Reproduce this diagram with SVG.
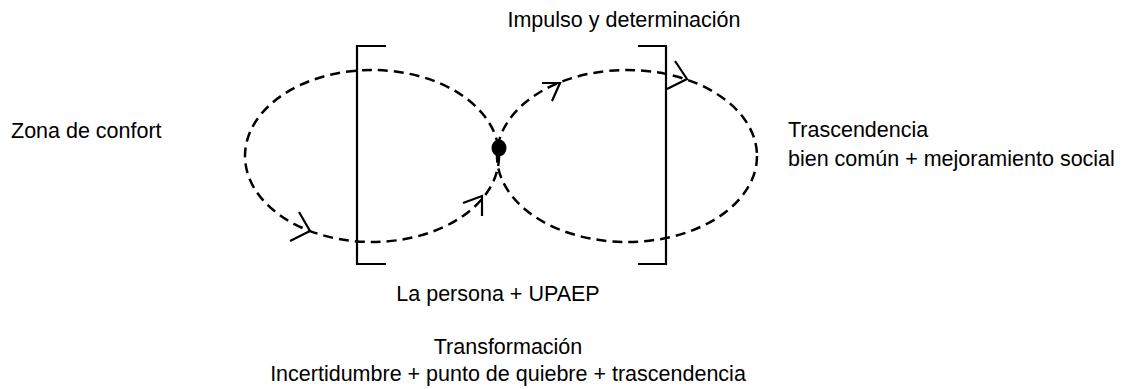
<svg xmlns="http://www.w3.org/2000/svg" width="1121" height="389" viewBox="0 0 1121 389">
<style>
.t{font-family:"Liberation Sans",Arial,sans-serif;font-size:21.5px;fill:#000}
.d{fill:none;stroke:#000;stroke-width:2.5;stroke-dasharray:10 6}
.s{fill:none;stroke:#000;stroke-width:2.2}
</style>
<rect width="1121" height="389" fill="#fff"/>
<g id="connectors">
<ellipse class="d" cx="372" cy="156" rx="127" ry="86"/>
<ellipse class="d" cx="627" cy="156" rx="130" ry="86"/>
<polyline class="s" points="299,212 310,231 290,241"/>
<polyline class="s" points="463,203 482,196 482,216"/>
<polyline class="s" points="542,83 560,83 552,101"/>
<polyline class="s" points="675,61 687,79 667,89"/>
</g>
<g id="bracket-left"><path class="s" d="M386,46 H357 V264 H386"/></g>
<g id="bracket-right"><path class="s" d="M638,46 H666 V264 H638"/></g>
<g id="point"><ellipse cx="499" cy="148" rx="7.5" ry="8.5" fill="#000"/></g>
<g id="zona"><text class="t" x="11" y="138">Zona de confort</text></g>
<g id="impulso"><text class="t" x="624" y="27" text-anchor="middle">Impulso y determinación</text></g>
<g id="trascendencia"><text class="t" x="788" y="137">Trascendencia</text><text class="t" x="788" y="166">bien común + mejoramiento social</text></g>
<g id="persona"><text class="t" x="498" y="301" text-anchor="middle">La persona + UPAEP</text></g>
<g id="transformacion"><text class="t" x="508" y="354" text-anchor="middle">Transformación</text><text class="t" x="508" y="381" text-anchor="middle">Incertidumbre + punto de quiebre + trascendencia</text></g>
</svg>
